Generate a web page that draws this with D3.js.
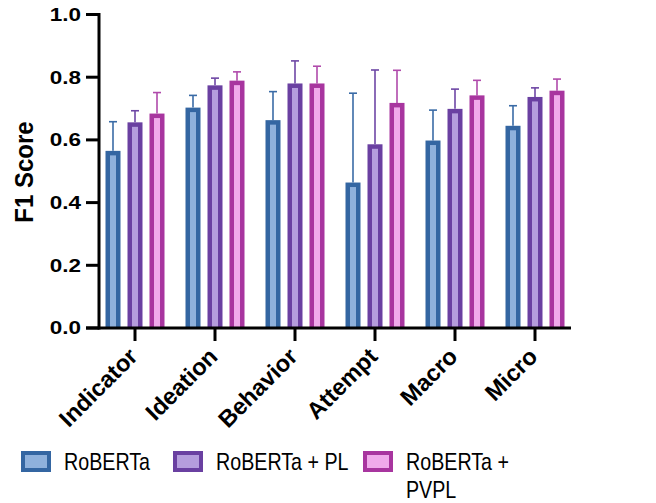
<!DOCTYPE html>
<html>
<head>
<meta charset="utf-8">
<script src="https://cdn.jsdelivr.net/npm/d3@7"></script>
<style>
  html, body { margin: 0; padding: 0; background: #fff; }
  svg { display: block; }
</style>
</head>
<body>
<svg id="chart" width="656" height="503"></svg>
<script>
const categories = ["Indicator", "Ideation", "Behavior", "Attempt", "Macro", "Micro"];
const seriesNames = ["RoBERTa", "RoBERTa + PL", "RoBERTa + PVPL"];
const robertaValues = [0.565, 0.703, 0.663, 0.464, 0.598, 0.645];
const robertaErrors = [0.658, 0.742, 0.754, 0.749, 0.695, 0.709];
const plValues      = [0.656, 0.774, 0.780, 0.586, 0.699, 0.737];
const plErrors      = [0.693, 0.797, 0.852, 0.823, 0.762, 0.766];
const pvplValues    = [0.684, 0.789, 0.780, 0.718, 0.742, 0.757];
const pvplErrors    = [0.751, 0.817, 0.835, 0.822, 0.790, 0.794];
const yTicks = [0.0, 0.2, 0.4, 0.6, 0.8, 1.0];

const darkColors  = ["#3466a2", "#6a40a1", "#a8359f"];
const lightColors = ["#8fb1dc", "#b59ddd", "#f0aaeb"];
const errColors   = ["#3a6ba6", "#6e47a5", "#b04aab"];

const series = [
  { name: seriesNames[0], values: robertaValues, errors: robertaErrors },
  { name: seriesNames[1], values: plValues, errors: plErrors },
  { name: seriesNames[2], values: pvplValues, errors: pvplErrors }
];

const svg = d3.select("#chart");
const FONT = "'Liberation Sans', Arial, Helvetica, sans-serif";

const y = d3.scaleLinear().domain([0, 1]).range([328, 14.5]);
const x = d3.scaleBand().domain(categories).range([95, 575]).padding(0);
const sub = d3.scaleBand().domain(d3.range(3)).range([-33, 33]).padding(0);
const barW = 15, border = 4.5;

// bars
series.forEach((s, si) => {
  const g = svg.append("g");
  categories.forEach((c, ci) => {
    const cx = x(c) + x.bandwidth() / 2 + sub(si) + sub.bandwidth() / 2;
    const v = s.values[ci], e = s.errors[ci];
    g.append("line").attr("x1", cx).attr("x2", cx).attr("y1", y(v)).attr("y2", y(e))
      .attr("stroke", errColors[si]).attr("stroke-width", 1.6);
    g.append("line").attr("x1", cx - 4).attr("x2", cx + 4).attr("y1", y(e)).attr("y2", y(e))
      .attr("stroke", errColors[si]).attr("stroke-width", 1.6);
    g.append("rect").attr("x", cx - barW / 2).attr("y", y(v)).attr("width", barW)
      .attr("height", y(0) - y(v)).attr("fill", darkColors[si]);
    g.append("rect").attr("x", cx - barW / 2 + border).attr("y", y(v) + border)
      .attr("width", barW - 2 * border).attr("height", Math.max(0, y(0) - y(v) - border))
      .attr("fill", lightColors[si]);
  });
});

// axes
svg.append("line").attr("x1", 99).attr("x2", 99).attr("y1", y(1) - 1.5).attr("y2", y(0) + 1.5)
  .attr("stroke", "#000").attr("stroke-width", 3);
svg.append("line").attr("x1", 86).attr("x2", 571).attr("y1", y(0)).attr("y2", y(0))
  .attr("stroke", "#000").attr("stroke-width", 3);

yTicks.forEach(t => {
  svg.append("line").attr("x1", 86).attr("x2", 99).attr("y1", y(t)).attr("y2", y(t))
    .attr("stroke", "#000").attr("stroke-width", 3);
  svg.append("text")
    .attr("transform", `translate(81,${y(t)}) scale(1.25,1)`)
    .attr("dy", "0.36em")
    .attr("text-anchor", "end")
    .attr("font-family", FONT).attr("font-weight", "bold").attr("font-size", 18)
    .attr("fill", "#000")
    .text(d3.format(".1f")(t));
});

categories.forEach(c => {
  const cx = x(c) + x.bandwidth() / 2;
  svg.append("line").attr("x1", cx).attr("x2", cx).attr("y1", y(0)).attr("y2", y(0) + 13)
    .attr("stroke", "#000").attr("stroke-width", 3);
  svg.append("text")
    .attr("transform", `translate(${cx + 4},${358}) rotate(-45)`)
    .attr("text-anchor", "end")
    .attr("font-family", FONT).attr("font-weight", "bold").attr("font-size", 23.5)
    .attr("fill", "#000")
    .text(c);
});

svg.append("text")
  .attr("transform", "translate(33,172) rotate(-90) scale(1,1.1)")
  .attr("text-anchor", "middle")
  .attr("font-family", FONT).attr("font-weight", "bold").attr("font-size", 24)
  .attr("fill", "#000")
  .text("F1 Score");

// legend
const legendX = [21, 173, 363];
const legendLines = [["RoBERTa"], ["RoBERTa + PL"], ["RoBERTa +", "PVPL"]];
series.forEach((s, si) => {
  const lx = legendX[si];
  svg.append("rect").attr("x", lx).attr("y", 451).attr("width", 30).attr("height", 21)
    .attr("fill", darkColors[si]);
  svg.append("rect").attr("x", lx + 4).attr("y", 455).attr("width", 22).attr("height", 13)
    .attr("fill", lightColors[si]);
  legendLines[si].forEach((line, li) => {
    svg.append("text")
      .attr("transform", `translate(${lx + 43},${469.5 + li * 28}) scale(0.82,1)`)
      .attr("font-family", FONT).attr("font-size", 24)
      .attr("fill", "#000")
      .text(line);
  });
});
</script>
</body>
</html>
